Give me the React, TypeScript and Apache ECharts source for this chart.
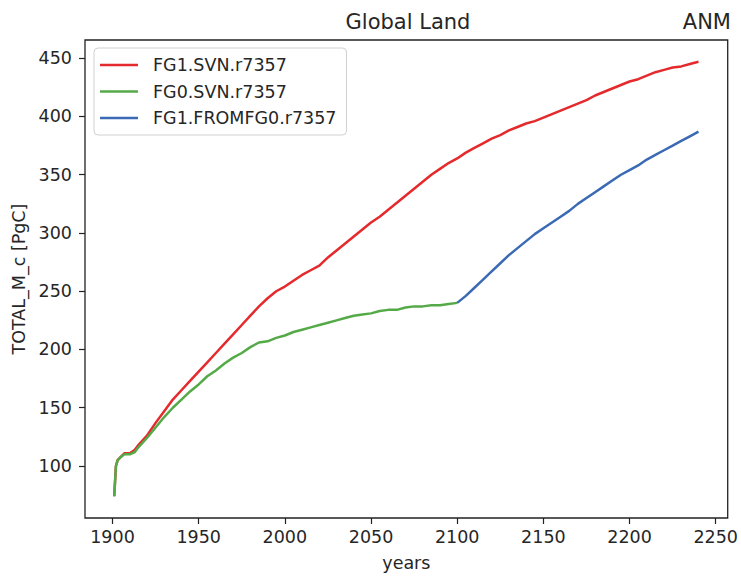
import React, { useEffect, useRef } from "react";
import * as echarts from "echarts";

const seriesNames = ["FG1.SVN.r7357", "FG0.SVN.r7357", "FG1.FROMFG0.r7357"];
const seriesColors = ["#e42a2c", "#55aa48", "#3a6ab3"];

const redYears = [1901, 1902, 1903, 1905, 1907, 1910, 1913, 1915, 1920, 1925, 1930, 1935, 1940, 1945, 1950, 1955, 1960, 1965, 1970, 1975, 1980, 1985, 1990, 1995, 2000, 2005, 2010, 2015, 2020, 2025, 2030, 2035, 2040, 2045, 2050, 2055, 2060, 2065, 2070, 2075, 2080, 2085, 2090, 2095, 2100, 2105, 2110, 2115, 2120, 2125, 2130, 2135, 2140, 2145, 2150, 2155, 2160, 2165, 2170, 2175, 2180, 2185, 2190, 2195, 2200, 2205, 2210, 2215, 2220, 2225, 2230, 2235, 2240];
const redValues = [74, 100, 105, 108, 111, 111, 114, 118, 126, 137, 147, 157, 165, 173, 181, 189, 197, 205, 213, 221, 229, 237, 244, 250, 254, 259, 264, 268, 272, 279, 285, 291, 297, 303, 309, 314, 320, 326, 332, 338, 344, 350, 355, 360, 364, 369, 373, 377, 381, 384, 388, 391, 394, 396, 399, 402, 405, 408, 411, 414, 418, 421, 424, 427, 430, 432, 435, 438, 440, 442, 443, 445, 447];

const greenYears = [1901, 1902, 1903, 1905, 1907, 1910, 1913, 1915, 1920, 1925, 1930, 1935, 1940, 1945, 1950, 1955, 1960, 1965, 1970, 1975, 1980, 1985, 1990, 1995, 2000, 2005, 2010, 2015, 2020, 2025, 2030, 2035, 2040, 2045, 2050, 2055, 2060, 2065, 2070, 2075, 2080, 2085, 2090, 2095, 2100];
const greenValues = [74, 100, 105, 108, 110, 110, 112, 116, 124, 133, 142, 150, 157, 164, 170, 177, 182, 188, 193, 197, 202, 206, 207, 210, 212, 215, 217, 219, 221, 223, 225, 227, 229, 230, 231, 233, 234, 234, 236, 237, 237, 238, 238, 239, 240];

const blueYears = [2100, 2105, 2110, 2115, 2120, 2125, 2130, 2135, 2140, 2145, 2150, 2155, 2160, 2165, 2170, 2175, 2180, 2185, 2190, 2195, 2200, 2205, 2210, 2215, 2220, 2225, 2230, 2235, 2240];
const blueValues = [240, 246, 253, 260, 267, 274, 281, 287, 293, 299, 304, 309, 314, 319, 325, 330, 335, 340, 345, 350, 354, 358, 363, 367, 371, 375, 379, 383, 387];

const xTicks = [1900, 1950, 2000, 2050, 2100, 2150, 2200, 2250];
const yTicks = [100, 150, 200, 250, 300, 350, 400, 450];

const FONT = "DejaVu Sans";
const TXT = "#262626";

function pairs(xs: number[], ys: number[]) {
  return xs.map((x, i) => [x, ys[i]]);
}

export default function App() {
  const ref = useRef<HTMLDivElement>(null);
  useEffect(() => {
    if (!ref.current) return;
    const chart = echarts.init(ref.current, null, { renderer: "svg" });
    const allData = [
      pairs(redYears, redValues),
      pairs(greenYears, greenValues),
      pairs(blueYears, blueValues),
    ];
    chart.setOption({
      animation: false,
      backgroundColor: "#ffffff",
      grid: {
        left: 85,
        right: 10,
        top: 40,
        bottom: 56,
        show: true,
        borderColor: "#222",
        borderWidth: 1.3,
        backgroundColor: "transparent",
      },
      xAxis: {
        type: "value",
        min: 1884.05,
        max: 2256.95,
        name: "years",
        nameLocation: "middle",
        nameGap: 36,
        nameTextStyle: { fontFamily: FONT, fontSize: 17.5, color: TXT },
        axisLine: { show: false },
        axisTick: { show: true, length: 6, customValues: xTicks, lineStyle: { color: "#222", width: 1.2 } },
        axisLabel: {
          customValues: xTicks,
          margin: 10,
          fontFamily: FONT,
          fontSize: 17.5,
          color: TXT,
          formatter: (v: number) => String(Math.round(v)),
        },
        splitLine: { show: false },
      },
      yAxis: {
        type: "value",
        min: 55.35,
        max: 465.65,
        name: "TOTAL_M_c [PgC]",
        nameLocation: "middle",
        nameRotate: 90,
        nameGap: 49,
        nameTextStyle: { fontFamily: FONT, fontSize: 17.5, color: TXT },
        axisLine: { show: false },
        axisTick: { show: true, length: 6, customValues: yTicks, lineStyle: { color: "#222", width: 1.2 } },
        axisLabel: {
          customValues: yTicks,
          margin: 13,
          fontFamily: FONT,
          fontSize: 17.5,
          color: TXT,
          formatter: (v: number) => String(Math.round(v)),
        },
        splitLine: { show: false },
      },
      legend: {
        orient: "vertical",
        left: 94,
        top: 48,
        padding: [8, 10, 8, 6],
        itemGap: 8.5,
        itemWidth: 38,
        itemHeight: 2.6,
        icon: "rect",
        backgroundColor: "rgba(255,255,255,0.85)",
        borderColor: "#d0d0d0",
        borderWidth: 1,
        borderRadius: 4,
        data: seriesNames,
        textStyle: { fontFamily: FONT, fontSize: 17.5, color: TXT, padding: [0, 0, 0, 10] },
      },
      graphic: [
        {
          type: "text",
          x: 408,
          y: 22,
          style: { text: "Global Land", fontFamily: FONT, fontSize: 21, fill: TXT, textAlign: "center", textVerticalAlign: "middle" },
        },
        {
          type: "text",
          x: 731,
          y: 22,
          style: { text: "ANM", fontFamily: FONT, fontSize: 21, fill: TXT, textAlign: "right", textVerticalAlign: "middle" },
        },
      ],
      series: seriesNames.map((name, i) => ({
        name,
        type: "line",
        data: allData[i],
        symbol: "none",
        showSymbol: false,
        color: seriesColors[i],
        lineStyle: { width: 2.5, color: seriesColors[i] },
        z: 2 + i,
      })),
    });
    return () => chart.dispose();
  }, []);
  return <div ref={ref} style={{ position: "fixed", left: 0, top: 0, width: 741, height: 577 }} />;
}
